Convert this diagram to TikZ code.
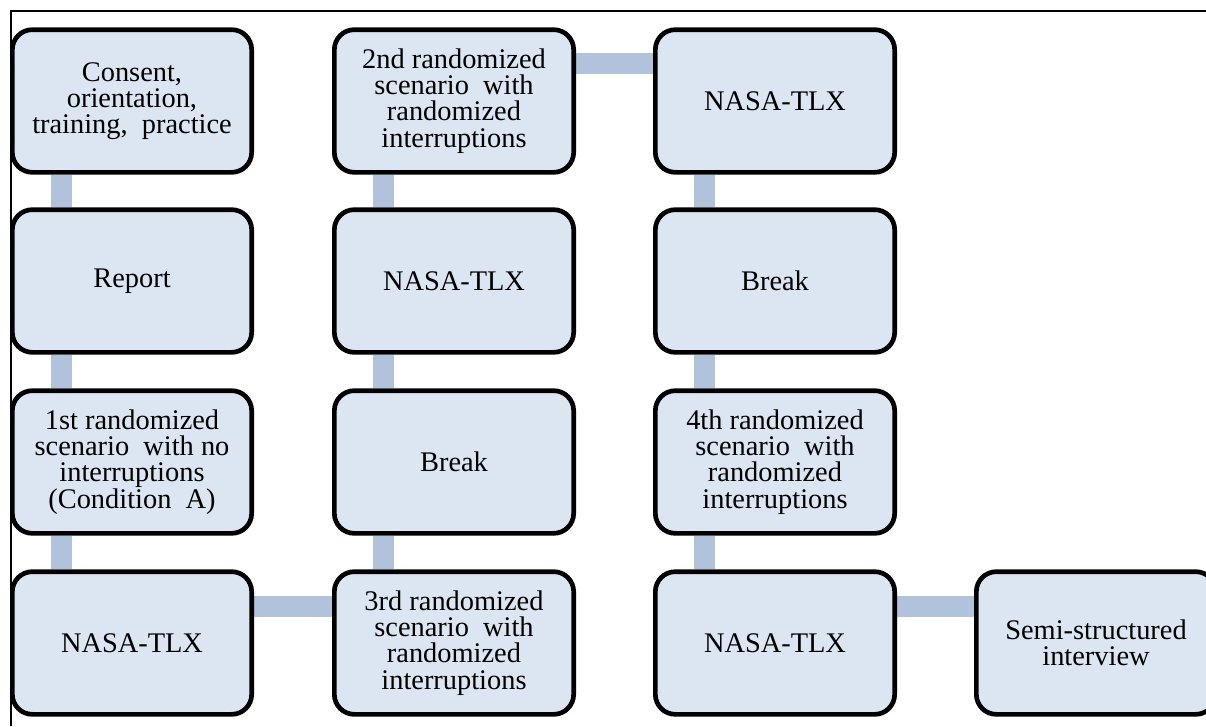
\documentclass[tikz,border=0pt]{standalone}
\usepackage{fontspec}
\setmainfont{Liberation Serif}
\usepackage{tikz}
\usetikzlibrary{positioning,calc,backgrounds}
\definecolor{boxfill}{RGB}{220,230,242}
\definecolor{barblue}{RGB}{176,194,220}
\newcommand{\boxfont}{\fontsize{21.3}{19.6}\selectfont}

\begin{document}
\begin{tikzpicture}[x=0.75pt,y=-0.75pt,
	stage/.style={draw=black,line width=3.5pt,rounded corners=15pt,fill=boxfill,
		minimum width=179.5pt,minimum height=107pt,align=center,font=\boxfont,inner sep=2pt},
	bar/.style={barblue,line width=15.75pt}]
	  \clip (0,0) rectangle (1206,726);
	  \draw[line width=1pt] (11,726) -- (11,11) -- (1206,11);
	  % first column, top to bottom
	  \node[stage] (consent) at (132,101) {Consent,\\orientation,\\training, \ practice};
	  \node[stage] (report) at (132,281) {Report};
	  \node[stage] (first) at (132,462) {1st randomized\\scenario \ with no\\interruptions\\(Condition \ A)};
	  \node[stage] (tlxa) at (132,643) {NASA-TLX};
	  % second column, bottom to top
	  \node[stage] (third) at (454,643) {3rd randomized\\scenario \ with\\randomized\\interruptions};
	  \node[stage] (breaka) at (454,462) {Break};
	  \node[stage] (tlxb) at (454,281) {NASA-TLX};
	  \node[stage] (second) at (454,101) {2nd randomized\\scenario \ with\\randomized\\interruptions};
	  % third column, top to bottom
	  \node[stage] (tlxc) at (775,101) {NASA-TLX};
	  \node[stage] (breakb) at (775,281) {Break};
	  \node[stage] (fourth) at (775,462) {4th randomized\\scenario \ with\\randomized\\interruptions};
	  \node[stage] (tlxd) at (775,643) {NASA-TLX};
	  \node[stage] (interview) at (1096,643) {Semi-structured\\interview};
	  \begin{pgfonlayer}{background}
		\foreach \a/\b in {consent/report,report/first,first/tlxa,breaka/third,tlxb/breaka,second/tlxb,tlxc/breakb,breakb/fourth,fourth/tlxd}
			\draw[bar] ($(\a.south west)+(51,0)$) -- ($(\b.north west)+(51,0)$);
		\draw[bar] ($(second.east)+(0,-37.5)$) -- ($(tlxc.west)+(0,-37.5)$);
		\draw[bar] ($(tlxa.east)+(0,-36.5)$) -- ($(third.west)+(0,-36.5)$);
		\draw[bar] ($(tlxd.east)+(0,-36.5)$) -- ($(interview.west)+(0,-36.5)$);
	  \end{pgfonlayer}
\end{tikzpicture}
\end{document}
